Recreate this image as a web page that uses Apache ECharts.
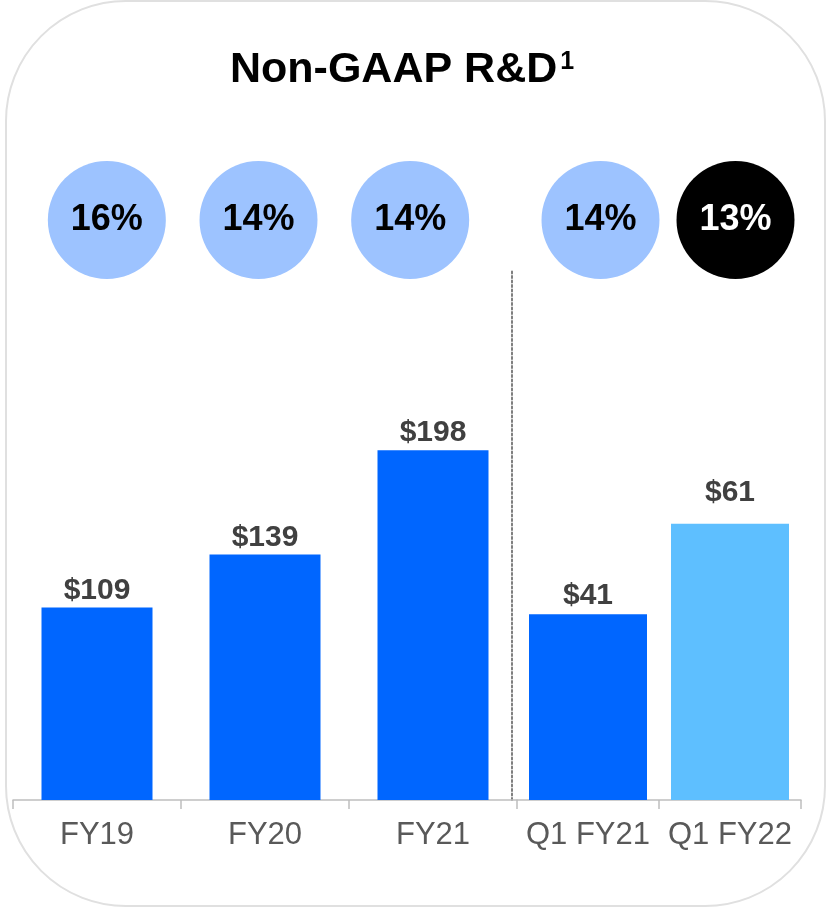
<!DOCTYPE html>
<html>
<head>
<meta charset="utf-8">
<script src="https://cdn.jsdelivr.net/npm/echarts@6/dist/echarts.min.js"></script>
<style>
  html, body { margin: 0; padding: 0; background: #fff; }
  #main { width: 832px; height: 908px; }
</style>
</head>
<body>
<div id="main"></div>
<script>
// 年度数据
var annualCats = ['FY19', 'FY20', 'FY21']
var annualValues = [109, 139, 198]
var annualPct = [16, 14, 14]
// 季度数据
var quarterCats = ['Q1 FY21', 'Q1 FY22']
var quarterValues = [41, 61]
var quarterPct = [14, 13]

var annualBarColors = ['#0066ff', '#0066ff', '#0066ff']
var quarterBarColors = ['#0066ff', '#5ebfff']
var annualDotColors = ['#9dc3ff', '#9dc3ff', '#9dc3ff']
var quarterDotColors = ['#9dc3ff', '#000000']

var FONT = '"Liberation Sans", Arial, sans-serif'

var myChart = echarts.init(document.getElementById('main'))

function catAxis (gridIndex, data, show) {
  return {
    type: 'category',
    gridIndex: gridIndex,
    data: data,
    show: show,
    axisLine: { show: true, lineStyle: { color: '#bfbfbf', width: 1.5 } },
    axisTick: { show: true, interval: 0, length: 9, lineStyle: { color: '#bfbfbf', width: 1.5 } },
    axisLabel: {
      show: true,
      interval: 0,
      hideOverlap: false,
      fontSize: 31,
      color: '#595959',
      fontFamily: FONT,
      margin: 20
    }
  }
}

function barLabel () {
  return {
    show: true,
    position: 'top',
    distance: 2,
    fontSize: 30,
    fontWeight: 'bold',
    color: '#404040',
    fontFamily: FONT,
    formatter: '${c}'
  }
}

function dotSeries (xIdx, cats, pct, colors) {
  return {
    type: 'scatter',
    xAxisIndex: xIdx,
    yAxisIndex: xIdx,
    symbol: 'circle',
    symbolSize: 118,
    silent: true,
    data: cats.map(function (c, i) {
      return {
        value: [c, 0],
        pct: pct[i],
        itemStyle: { color: colors[i], opacity: 1 },
        label: { color: colors[i] === '#000000' ? '#ffffff' : '#000000' }
      }
    }),
    label: {
      show: true,
      position: 'inside',
      fontSize: 36,
      fontWeight: 'bold',
      fontFamily: FONT,
      formatter: function (p) { return p.data.pct + '%' }
    }
  }
}

myChart.setOption({
  animation: false,
  title: {
    text: '{a|Non-GAAP R&D}{b|1}',
    left: 225,
    top: 44,
    textStyle: {
      rich: {
        a: { fontSize: 43, fontWeight: 'bold', color: '#000', fontFamily: FONT, lineHeight: 43 },
        b: { fontSize: 25, fontWeight: 'bold', color: '#000', fontFamily: FONT, padding: [0, 0, 16, 3] }
      }
    }
  },
  graphic: [
    {
      type: 'rect',
      shape: { x: 6, y: 1, width: 819, height: 905, r: 120 },
      style: { fill: 'none', stroke: '#e0e0e0', lineWidth: 2 },
      silent: true,
      z: -1
    }
  ],
  grid: [
    { left: 13, width: 504, top: 270, bottom: 108 },
    { left: 517, width: 284, top: 270, bottom: 108 },
    { left: 31, width: 455, top: 160, height: 120 },
    { left: 533, width: 270, top: 160, height: 120 }
  ],
  xAxis: [
    catAxis(0, annualCats, true),
    catAxis(1, quarterCats, true),
    catAxis(2, annualCats, false),
    catAxis(3, quarterCats, false)
  ],
  yAxis: [
    { type: 'value', gridIndex: 0, min: 0, max: 300, show: false },
    {
      type: 'value', gridIndex: 1, min: 0, max: 117, offset: 5,
      axisLine: { show: true, lineStyle: { color: '#7f7f7f', width: 2, type: [2, 2.5] } },
      axisTick: { show: false },
      axisLabel: { show: false },
      splitLine: { show: false }
    },
    { type: 'value', gridIndex: 2, min: -1, max: 1, show: false },
    { type: 'value', gridIndex: 3, min: -1, max: 1, show: false }
  ],
  series: [
    {
      type: 'bar',
      xAxisIndex: 0,
      yAxisIndex: 0,
      barWidth: 111,
      data: annualValues.map(function (v, i) {
        return { value: v, itemStyle: { color: annualBarColors[i] } }
      }),
      label: barLabel()
    },
    {
      type: 'bar',
      xAxisIndex: 1,
      yAxisIndex: 1,
      barWidth: 118,
      data: quarterValues.map(function (v, i) {
        var item = { value: v, itemStyle: { color: quarterBarColors[i] } }
        if (i === 0) item.label = { distance: 4 }
        if (i === 1) item.label = { distance: 16 }
        return item
      }),
      label: barLabel()
    },
    dotSeries(2, annualCats, annualPct, annualDotColors),
    dotSeries(3, quarterCats, quarterPct, quarterDotColors)
  ]
})
</script>
</body>
</html>
